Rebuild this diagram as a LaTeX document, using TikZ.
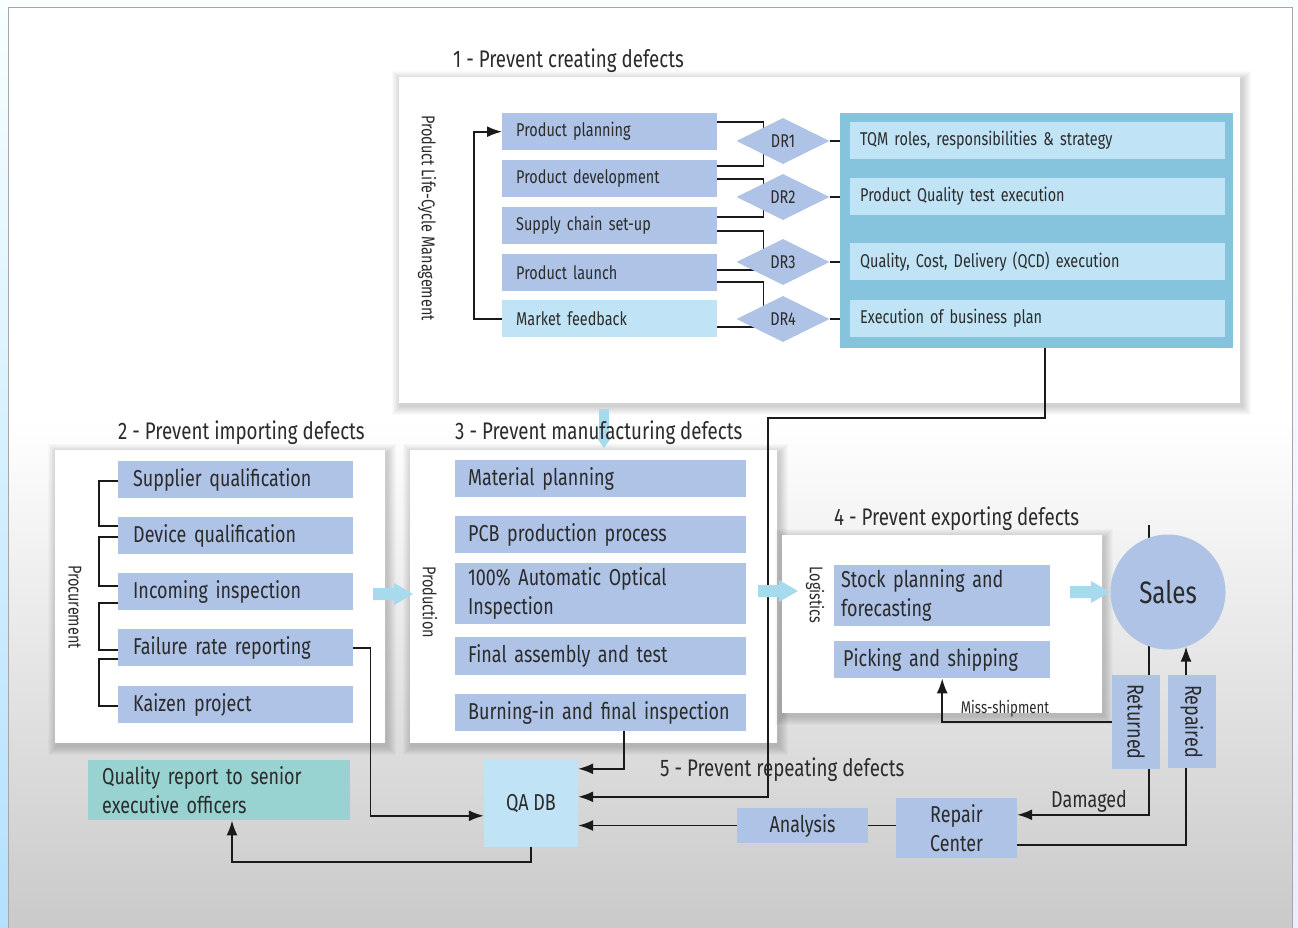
\documentclass[tikz,border=0pt]{standalone}
\usepackage{fontspec}
\setmainfont{Fira Sans}[FakeStretch=0.78]
\usetikzlibrary{calc,arrows.meta,shapes.geometric}
\definecolor{itemblue}{HTML}{AEC3E6}
\definecolor{paleblue}{HTML}{C0E4F5}
\definecolor{contblue}{HTML}{86C4DE}
\definecolor{tealbox}{HTML}{99D3D1}
\definecolor{fatblue}{HTML}{A8DAEE}
\definecolor{inkc}{HTML}{2B2B2B}
\definecolor{linec}{HTML}{1A1A1A}
\newcommand\myfontS{\fontsize{17}{20}\selectfont}
\newcommand\myfontA{\fontsize{18.5}{23}\selectfont}
\newcommand\myfontB{\fontsize{23}{29}\selectfont}
\newcommand\myfontT{\fontsize{24}{29}\selectfont}
\newcommand\myfontC{\fontsize{31}{36}\selectfont}
% light-blue block arrow, tail centre at #1
\newcommand\fatarrow[1]{\fill[fatblue] (#1) ++(0,-6) -- ++(21,0) -- ++(0,-5) -- ++(19,11) -- ++(-19,11) -- ++(0,-5) -- ++(-21,0) -- cycle;}
% white panel with a soft halo shadow: corners (#1,#2) and (#3,#4)
\newcommand\whitepanel[4]{%
  \foreach \d in {1,...,9}{\fill[black, opacity=0.018] (#1+2-\d, #2+3-\d) rectangle (#3+2+\d, #4+3+\d);}
  \fill[white] (#1,#2) rectangle (#3,#4);}
\pgfdeclarelayer{bg}
\pgfdeclarelayer{lines}
\pgfsetlayers{bg,lines,main}
\begin{document}
\begin{tikzpicture}[x=1pt,y=-1pt,
  ln/.style={draw=linec, line width=1.7pt},
  arr/.style={ln, -{Latex[length=15pt,width=11pt]}},
  ttl/.style={anchor=west, text=inkc, font=\myfontT, inner sep=0pt},
  side/.style={rotate=-90, text=inkc, font=\myfontA, inner sep=0pt},
  boxA/.style={fill=itemblue, anchor=north west, inner xsep=14pt, inner ysep=0pt, text width=187pt, minimum height=37pt, align=left, text=inkc, font=\myfontA},
  boxR/.style={fill=paleblue, anchor=north west, inner xsep=10pt, inner ysep=0pt, text width=355pt, minimum height=37pt, align=left, text=inkc, font=\myfontA},
  boxP/.style={fill=itemblue, anchor=north west, inner xsep=15pt, inner ysep=0pt, text width=205pt, minimum height=37pt, align=left, text=inkc, font=\myfontB},
  boxM/.style={fill=itemblue, anchor=north west, inner xsep=13pt, inner ysep=0pt, text width=265pt, minimum height=37pt, align=left, text=inkc, font=\myfontB},
  boxL/.style={fill=itemblue, anchor=north west, inner xsep=7pt, inner ysep=0pt, text width=202pt, minimum height=37pt, align=left, text=inkc, font=\myfontB},
  dr/.style={diamond, fill=itemblue, inner sep=0pt, minimum width=93pt, minimum height=46pt, text=inkc, font=\myfontA}
]
\useasboundingbox (0,0) rectangle (1298,928);

\begin{pgfonlayer}{bg}
  % surrounding backdrop and grey panel
  \shade[top color=white!85!cyan!15, bottom color=cyan!15!blue!8] (0,0) rectangle (1298,928);
  \shade[top color=white!85!cyan!20, middle color=cyan!25!blue!25, bottom color=cyan!60!blue!30] (0,0) rectangle (8,928);
  \fill[white] (8,8) rectangle (1292,420);
  \shade[top color=white, bottom color=black!21] (8,420) rectangle (1292,928);
  \draw[black!35, line width=1pt] (8,930) -- (8,8) -- (1292,8) -- (1292,930);
  % white panels
  \whitepanel{399}{77}{1240}{403}
  \whitepanel{55}{450}{385}{743}
  \whitepanel{410}{450}{777}{743}
  \whitepanel{782}{535}{1102}{713}
  % narrow arrow from stage 1 down into stage 3
  \fill[fatblue] (599,409) rectangle (609,438);
  \fill[fatblue] (597,438) -- (611,438) -- (604,448) -- cycle;
\end{pgfonlayer}

% section titles
\node[ttl] (t1) at (453,61) {1 - Prevent creating defects};
\node[ttl] (t2) at (118,433) {2 - Prevent importing defects};
\node[ttl] (t3) at (455,433) {3 - Prevent manufacturing defects};
\node[ttl] (t4) at (834,519) {4 - Prevent exporting defects};
\node[ttl] (t5) at (660,770) {5 - Prevent repeating defects};

% 1 - product life cycle
\node[side] (plcm) at (427,218) {Product Life-Cycle Management};
\node[boxA] (pp) at (502,113) {Product planning};
\node[boxA] (pd) at (502,160) {Product development};
\node[boxA] (sc) at (502,207) {Supply chain set-up};
\node[boxA] (pl) at (502,254) {Product launch};
\node[boxA, fill=paleblue] (mf) at (502,300) {Market feedback};

\node[fill=contblue, anchor=north west, inner sep=0pt, minimum width=393pt, minimum height=235pt] (cont) at (840,113) {};
\node[boxR] (tqm) at (850,122) {TQM roles, responsibilities \& strategy};
\node[boxR] (pq) at (850,178) {Product Quality test execution};
\node[boxR] (qcd) at (850,243) {Quality, Cost, Delivery (QCD) execution};
\node[boxR] (exe) at (850,300) {Execution of business plan};

\node[dr] (dr1) at (783,141) {DR1};
\node[dr] (dr2) at (783,197) {DR2};
\node[dr] (dr3) at (783,262) {DR3};
\node[dr] (dr4) at (783,319) {DR4};

% 2 - procurement
\node[side] (proc) at (75,607) {Procurement};
\node[boxP] (sq) at (118,461) {Supplier qualification};
\node[boxP] (dq) at (118,517) {Device qualification};
\node[boxP] (ii) at (118,573) {Incoming inspection};
\node[boxP] (fr) at (118,629) {Failure rate reporting};
\node[boxP] (kz) at (118,686) {Kaizen project};

% 3 - production
\node[side] (prod) at (430,602) {Production};
\node[boxM] (mp) at (455,460) {Material planning};
\node[boxM] (pcb) at (455,516) {PCB production process};
\node[boxM, minimum height=61pt] (aoi) at (455,563) {100\% Automatic Optical\\Inspection};
\node[boxM, minimum height=38pt] (fa) at (455,637) {Final assembly and test};
\node[boxM] (bi) at (455,694) {Burning-in and final inspection};

% 4 - logistics
\node[side] (logi) at (815,595) {Logistics};
\node[boxL, minimum height=61pt] (spf) at (834,565) {Stock planning and\\forecasting};
\node[boxL] (ps) at (834,641) {\hspace*{2pt}Picking and shipping};
\node[circle, fill=itemblue, minimum size=115pt, inner sep=0pt, text=inkc, font=\myfontC] (sales) at (1168,592) {Sales};
\node[fill=itemblue, minimum width=48pt, minimum height=94pt, inner sep=0pt] (ret) at (1136,722) {};
\node[side, font=\myfontB] (retl) at (ret) {Returned};
\node[fill=itemblue, minimum width=48pt, minimum height=93pt, inner sep=0pt] (repd) at (1192,721.5) {};
\node[side, font=\myfontB] (repdl) at (repd) {Repaired};

% 5 - repeating defects
\node[fill=paleblue, minimum width=94pt, minimum height=87pt, inner sep=0pt, text=inkc, font=\myfontB] (qadb) at (531,803.5) {QA DB};
\node[fill=tealbox, anchor=north west, inner xsep=14pt, inner ysep=0pt, text width=234pt, minimum height=60pt, align=left, text=inkc, font=\myfontB] (qr) at (88,760) {Quality report to senior\\executive officers};
\node[fill=itemblue, minimum width=131pt, minimum height=35pt, inner sep=0pt, text=inkc, font=\myfontB] (ana) at (802.5,825.5) {Analysis};
\node[fill=itemblue, minimum width=121pt, minimum height=60pt, inner sep=0pt, align=center, text=inkc, font=\myfontB] (rep) at (956.5,828) {Repair\\Center};

\node[text=inkc, font=\myfontB, inner sep=0pt] (dmg) at (1089,801) {Damaged};
\node[text=inkc, font=\myfontS, inner sep=0pt] (miss) at (1005,709) {Miss-shipment};

\coordinate (salestop) at (1149,525);
\coordinate (bend1) at (768,418);

\begin{pgfonlayer}{lines}
  % design-review brackets
  \draw[ln] ($(pp.north east)+(0,9)$) -- ++(46,0) |- ($(pd.north east)+(0,6)$);
  \draw[ln] ($(pd.north east)+(0,19)$) -- ++(46,0) |- ($(sc.north east)+(0,10)$);
  \draw[ln] ($(sc.north east)+(0,24)$) -- ++(46,0) |- ($(pl.north east)+(0,16)$);
  \draw[ln] ($(pl.north east)+(0,28)$) -- ++(46,0) |- ($(mf.north east)+(0,27)$);
  \draw[ln] (dr1.east) -- (dr1.east -| tqm.west);
  \draw[ln] (dr2.east) -- (dr2.east -| pq.west);
  \draw[ln] (dr3.east) -- (dr3.east -| qcd.west);
  \draw[ln] (dr4.east) -- (dr4.east -| exe.west);
  \draw[arr] (mf.west) -- ++(-28,0) |- (pp.west);
  % procurement brackets
  \draw[ln] ($(sq.north west)+(0,20)$) -- ++(-19,0) |- ($(dq.north west)+(0,9)$);
  \draw[ln] ($(dq.north west)+(0,20)$) -- ++(-19,0) |- ($(ii.north west)+(0,13)$);
  \draw[ln] ($(ii.north west)+(0,30)$) -- ++(-19,0) |- ($(fr.north west)+(0,21)$);
  \draw[ln] ($(fr.north west)+(0,30)$) -- ++(-19,0) |- ($(kz.north west)+(0,20)$);
  % feeds into the QA database
  \draw[arr] (fr.east) -- ++(17,0) |- ($(qadb.north west)+(0,56)$);
  \draw[arr] ($(bi.south west)+(169,0)$) |- ($(qadb.north east)+(0,9)$);
  \draw[arr] ($(cont.south west)+(205,0)$) |- (bend1) |- ($(qadb.north east)+(0,37)$);
  \draw[arr] (ana.west) -- (ana.west -| qadb.east);
  \draw[ln] (ana.east) -- (ana.east -| rep.west);
  \draw[arr] (qadb.south) -- ++(0,15) -| ($(qr.south west)+(144,0)$);
  % returns loop
  \draw[arr] (salestop) |- ($(rep.north east)+(0,17)$);
  \draw[arr] (ret.west) -| (ps.south);
  \draw[arr] ($(rep.south east)+(0,-13)$) -| ($(sales.center)+(18,54.6)$);
\end{pgfonlayer}

% block arrows between stages
\fatarrow{373,594}
\fatarrow{758,591}
\fatarrow{1070,592}
\end{tikzpicture}
\end{document}
